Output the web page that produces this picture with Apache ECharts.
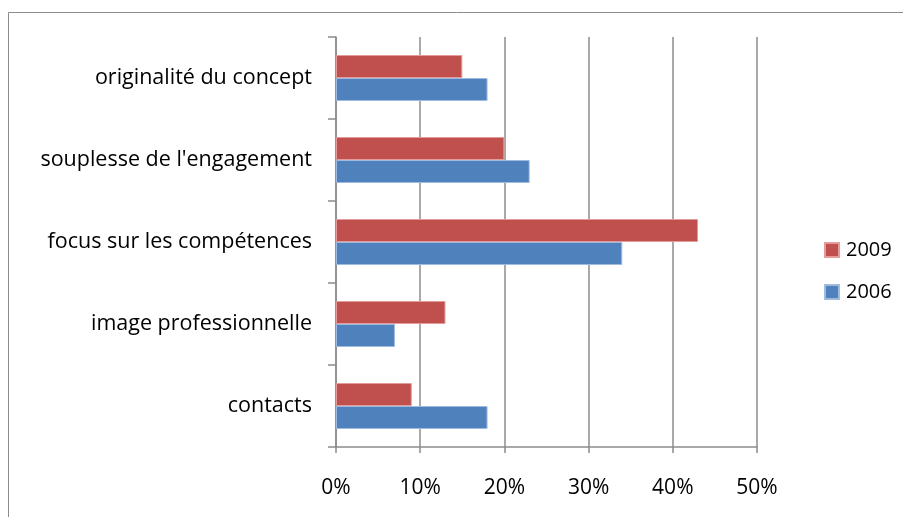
<!DOCTYPE html>
<html>
<head>
<meta charset="utf-8">
<script src="https://cdn.jsdelivr.net/npm/echarts@6/dist/echarts.min.js"></script>
<style>
html,body{margin:0;padding:0;background:#fff;}
#c{width:903px;height:517px;}
</style>
</head>
<body>
<div id="c"></div>
<script>
const categories = ["contacts", "image professionnelle", "focus sur les compétences", "souplesse de l'engagement", "originalité du concept"];
const values2006 = [18, 7, 34, 23, 18];
const values2009 = [9, 13, 43, 20, 15];
const xTicks = [0, 10, 20, 30, 40, 50];

const FONT = "Open Sans";
const chart = echarts.init(document.getElementById('c'), null, {renderer: 'canvas'});
chart.setOption({
  animation: false,
  graphic: [{
    type: 'rect',
    shape: {x: 8.5, y: 12.5, width: 1000, height: 1000},
    style: {fill: 'none', stroke: '#8c8c8c', lineWidth: 1},
    silent: true
  }],
  grid: {left: 336, right: 146, top: 37, bottom: 70, containLabel: false},
  legend: {
    orient: 'vertical',
    left: 819, top: 235,
    itemWidth: 14, itemHeight: 14, itemGap: 22,
    icon: 'rect',
    data: ['2009', '2006'],
    textStyle: {fontFamily: FONT, fontSize: 20, color: '#000', padding: [0,0,0,2]}
  },
  xAxis: {
    type: 'value',
    min: xTicks[0], max: xTicks[xTicks.length - 1], interval: 10,
    axisLine: {show: true, lineStyle: {color: '#8c8c8c', width: 1.5}},
    axisTick: {show: true, length: 6, lineStyle: {color: '#8c8c8c', width: 1.5}},
    splitLine: {show: true, lineStyle: {color: '#8c8c8c', width: 1.5}},
    axisLabel: {formatter: '{value}%', fontFamily: FONT, fontSize: 21, color: '#000', margin: 31}
  },
  yAxis: {
    type: 'category',
    data: categories,
    axisLine: {show: true, lineStyle: {color: '#8c8c8c', width: 1.5}},
    axisTick: {show: true, length: 8, lineStyle: {color: '#8c8c8c', width: 1.5}},
    axisLabel: {fontFamily: FONT, fontSize: 21.5, color: '#000', margin: 24}
  },
  series: [
    {name: '2009', type: 'bar', data: values2009, barWidth: 23, barGap: '0%',
     itemStyle: {color: '#C0504D', borderColor: '#e39c9a', borderWidth: 1}},
    {name: '2006', type: 'bar', data: values2006, barWidth: 23, barGap: '0%',
     itemStyle: {color: '#4F81BD', borderColor: '#9fbbe0', borderWidth: 1}}
  ]
});
</script>
</body>
</html>
